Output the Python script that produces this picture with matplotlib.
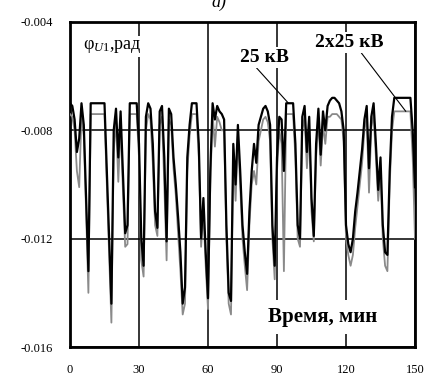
import matplotlib
matplotlib.use('Agg')
import matplotlib.pyplot as plt
import numpy as np

# time, minutes (1-min steps)
t_min = list(range(0, 151))

# phase angle, 1e-3 rad, 25 kV system (black)
phi_25 = [
    -7.0, -7.1, -7.6, -8.8, -8.3, -7.0, -7.8, -10.5, -13.2, -7.0,
    -7.0, -7.0, -7.0, -7.0, -7.0, -7.0, -9.5, -12.0, -14.4, -8.0,
    -7.2, -9.0, -7.3, -9.5, -11.8, -11.5, -7.0, -7.0, -7.0, -7.0,
    -8.5, -12.0, -13.0, -7.5, -7.0, -7.2, -8.5, -11.0, -11.6, -7.3,
    -7.1, -9.0, -12.1, -7.2, -7.4, -9.0, -10.0, -11.2, -12.5, -14.4,
    -13.8, -9.0, -7.8, -7.0, -7.0, -7.0, -8.5, -12.0, -10.5, -12.5,
    -14.2, -9.5, -7.0, -7.6, -7.1, -7.3, -7.4, -7.6, -11.5, -14.0,
    -14.3, -8.5, -10.0, -7.8, -9.5, -11.5, -12.5, -13.3, -11.0, -9.5,
    -8.5, -9.2, -7.8, -7.5, -7.2, -7.1, -7.3, -7.8, -11.5, -13.0,
    -9.0, -7.5, -7.6, -9.5, -7.0, -7.0, -7.0, -7.0, -8.5, -11.5,
    -12.0, -7.5, -7.1, -8.8, -7.5, -10.5, -11.9, -8.5, -7.2, -8.9,
    -7.3, -8.0, -7.1, -6.9, -6.8, -6.8, -6.9, -7.0, -7.3, -8.0,
    -11.5, -12.2, -12.5, -12.0, -11.0, -10.3, -9.5, -8.7, -7.6, -7.1,
    -9.4, -7.5, -7.0, -8.5, -10.2, -9.0, -11.5, -12.5, -12.6, -9.5,
    -7.5, -6.8, -6.8, -6.8, -6.8, -6.8, -6.8, -6.8, -6.8, -8.0,
    -10.1,
]

# phase angle, 1e-3 rad, 2x25 kV system (grey)
phi_2x25 = [
    -7.4, -7.5, -8.0, -9.5, -10.1, -7.4, -8.2, -11.0, -14.0, -7.4,
    -7.4, -7.4, -7.4, -7.4, -7.4, -7.4, -10.0, -12.6, -15.1, -8.8,
    -7.6, -9.9, -7.7, -10.2, -12.3, -12.2, -7.4, -7.4, -7.4, -7.4,
    -9.0, -12.8, -13.4, -8.0, -7.4, -7.6, -9.2, -11.5, -11.9, -7.8,
    -7.5, -10.0, -12.8, -7.6, -7.8, -9.4, -10.4, -11.8, -13.2, -14.8,
    -14.4, -9.5, -8.2, -7.4, -7.4, -7.4, -9.0, -12.3, -11.0, -13.0,
    -14.6, -10.0, -7.4, -8.6, -7.5, -7.7, -8.0, -8.0, -12.0, -14.4,
    -14.8, -9.0, -10.6, -8.2, -10.0, -12.0, -13.0, -13.9, -11.5, -10.0,
    -9.5, -10.0, -8.4, -8.0, -7.6, -7.5, -7.7, -8.4, -12.0, -13.5,
    -9.5, -8.0, -8.5, -13.2, -7.4, -7.4, -7.4, -7.4, -9.0, -12.0,
    -12.3, -8.0, -7.5, -9.4, -8.0, -11.0, -12.1, -9.0, -7.6, -9.3,
    -7.8, -8.5, -7.5, -7.5, -7.4, -7.4, -7.4, -7.5, -7.6, -8.4,
    -12.0, -12.6, -13.0, -12.6, -11.6, -10.8, -10.0, -9.2, -8.0, -7.5,
    -10.3, -7.9, -7.4, -9.0, -10.6, -9.5, -12.0, -13.0, -13.2, -10.0,
    -8.0, -7.3, -7.3, -7.3, -7.3, -7.3, -7.3, -7.3, -7.3, -9.0,
    -12.0,
]

x_ticks = [0, 30, 60, 90, 120, 150]
y_ticks = [-0.016, -0.012, -0.008, -0.004]
y_tick_labels = ['-0.016', '-0.012', '-0.008', '-0.004']

t = np.array(t_min)
black = np.array(phi_25) * 1e-3
grey = np.array(phi_2x25) * 1e-3

plt.rcParams['font.family'] = ['Liberation Serif', 'DejaVu Serif']
plt.rcParams['mathtext.fontset'] = 'custom'
plt.rcParams['mathtext.it'] = 'Liberation Serif:italic'
plt.rcParams['mathtext.rm'] = 'Liberation Serif'

fig = plt.figure(figsize=(4.3, 3.8), dpi=100)
ax = fig.add_axes([70 / 430, 1 - 347 / 380, 345 / 430, 325 / 380])

ax.plot(t, grey, color='#8a8a8a', lw=1.3, zorder=3)
ax.plot(t, black, color='black', lw=1.6, zorder=4)

ax.set_xlim(0, 150)
ax.set_ylim(-0.016, -0.004)
ax.set_xticks(x_ticks)
ax.set_yticks(y_ticks)
ax.set_yticklabels(y_tick_labels)
ax.tick_params(length=0, labelsize=9, pad=12)
ax.grid(True, color='black', lw=1.1, zorder=1)
for s in ax.spines.values():
    s.set_linewidth(2)

box = dict(facecolor='white', edgecolor='none', pad=1.5)

ax.text(5.5, -0.0049, 'φ$_{U1}$,рад', fontsize=13, ha='left', va='center',
        bbox=box, zorder=6)
ax.annotate('25 кВ', xy=(t[95], black[95]), xytext=(84.5, -0.0053),
            fontsize=14, fontweight='bold', ha='center', va='center',
            bbox=box, zorder=6,
            arrowprops=dict(arrowstyle='-', color='black', lw=0.8,
                            shrinkA=0, shrinkB=0,
                            relpos=(0.3, 0.0)))
ax.annotate('2x25 кВ', xy=(t[146], grey[146]), xytext=(121.5, -0.00475),
            fontsize=14, fontweight='bold', ha='center', va='center',
            bbox=box, zorder=6,
            arrowprops=dict(arrowstyle='-', color='black', lw=0.8,
                            shrinkA=0, shrinkB=0,
                            relpos=(0.65, 0.0)))
ax.text(110, -0.0149, 'Время, мин', fontsize=15, fontweight='bold',
        ha='center', va='center', bbox=dict(facecolor='white', edgecolor='none', pad=5),
        zorder=6)

fig.text(0.51, 0.995, 'а)', fontsize=13, style='italic', ha='center', va='center')

fig.savefig('out.png', dpi=100)
